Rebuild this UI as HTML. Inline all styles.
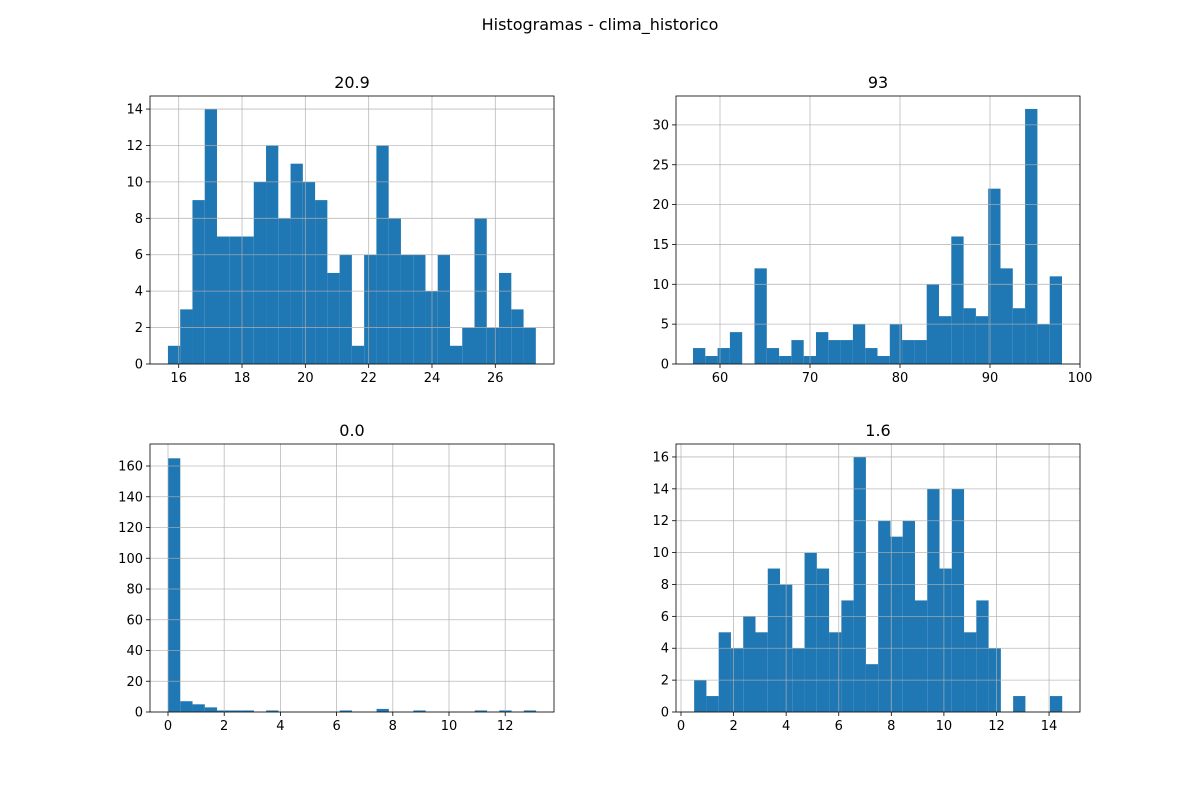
<!DOCTYPE html>
<html><head><meta charset="utf-8"><style>
body{margin:0;background:#fff;}
svg text{font-family:"DejaVu Sans","Liberation Sans",sans-serif;fill:#000;}
</style></head><body>
<svg id="fig" width="1200" height="800" xmlns="http://www.w3.org/2000/svg">
<rect width="1200" height="800" fill="#fff"/>
<text x="600" y="30" text-anchor="middle" font-size="16">Histogramas - clima_historico</text>
</svg>
<script>
const counts1 = [1,3,9,14,7,7,7,10,12,8,11,10,9,5,6,1,6,12,8,6,6,4,6,1,2,8,2,5,3,2];
const range1 = [15.66, 27.28];
const xticks1 = [16,18,20,22,24,26];
const yticks1 = [0,2,4,6,8,10,12,14];
const counts2 = [2,1,2,4,0,12,2,1,3,1,4,3,3,5,2,1,5,3,3,10,6,16,7,6,22,12,7,32,5,11];
const range2 = [57, 98];
const xticks2 = [60,70,80,90,100];
const yticks2 = [0,5,10,15,20,25,30];
const counts3 = [165,7,5,3,1,1,1,0,1,0,0,0,0,0,1,0,0,2,0,0,1,0,0,0,0,1,0,1,0,1];
const range3 = [0, 13.1];
const xticks3 = [0,2,4,6,8,10,12];
const yticks3 = [0,20,40,60,80,100,120,140,160];
const counts4 = [2,1,5,4,6,5,9,8,4,10,9,5,7,16,3,12,11,12,7,14,9,14,5,7,4,0,1,0,0,1];
const range4 = [0.5, 14.5];
const xticks4 = [0,2,4,6,8,10,12,14];
const yticks4 = [0,2,4,6,8,10,12,14,16];

const NS='http://www.w3.org/2000/svg';
const svg=document.getElementById('fig');
function mk(tag,attrs,parent){const e=document.createElementNS(NS,tag);for(const k in attrs)e.setAttribute(k,attrs[k]);(parent||svg).appendChild(e);return e;}

function panel(name,title,box,counts,range,xdom,ydom,xticks,yticks){
  const g=mk('g',{});
  
  
  const [L,T,R,B]=box;
  const xs=v=>L+(v-xdom[0])/(xdom[1]-xdom[0])*(R-L);
  const ys=v=>B-(v-ydom[0])/(ydom[1]-ydom[0])*(B-T);
  const w=(range[1]-range[0])/counts.length;
  counts.forEach((c,i)=>{
    if(c<=0)return;
    const x0=xs(range[0]+i*w),x1=xs(range[0]+(i+1)*w);
    const r=mk('rect',{x:x0,y:ys(c),width:x1-x0,height:ys(0)-ys(c),fill:'#1f77b4'},g);
    
    
  });
  xticks.forEach(t=>{
    const x=xs(t);
    const gl=mk('line',{x1:x,x2:x,y1:T,y2:B,stroke:'#b0b0b0','stroke-width':0.8,opacity:0.85},g);
    
    
    mk('line',{x1:x,x2:x,y1:B,y2:B+4,stroke:'#000','stroke-width':0.8},g);
    const tx=mk('text',{x:x,y:B+18,'text-anchor':'middle','font-size':13},g);
    tx.textContent=t;
    
    
  });
  yticks.forEach(t=>{
    const y=ys(t);
    const gl=mk('line',{x1:L,x2:R,y1:y,y2:y,stroke:'#b0b0b0','stroke-width':0.8,opacity:0.85},g);
    
    
    mk('line',{x1:L-4,x2:L,y1:y,y2:y,stroke:'#000','stroke-width':0.8},g);
    const tx=mk('text',{x:L-7,y:y+4.5,'text-anchor':'end','font-size':13},g);
    tx.textContent=t;
    
    
  });
  mk('rect',{x:L,y:T,width:R-L,height:B-T,fill:'none',stroke:'#000','stroke-width':0.8},g);
  const tt=mk('text',{x:(L+R)/2,y:T-8,'text-anchor':'middle','font-size':16},g);
  tt.textContent=title;
  
  
}
panel('histogram-temperature','20.9',[150,96,554,364],counts1,range1,[16-28.7/31.66,16+(554-178.7)/31.66],[0,(364-96)/18.21],xticks1,yticks1);
panel('histogram-humidity','93',[676,96,1080,364],counts2,range2,[60-44/9,100],[0,(364-96)/7.97],xticks2,yticks2);
panel('histogram-precipitation','0.0',[150,444,554,712],counts3,range3,[-18/28.1,(554-168)/28.1],[0,(712-444)/1.5375],xticks3,yticks3);
panel('histogram-wind','1.6',[676,444,1080,712],counts4,range4,[-5/26.29,(1080-681)/26.29],[0,(712-444)/15.94],xticks4,yticks4);
</script>
</body></html>
